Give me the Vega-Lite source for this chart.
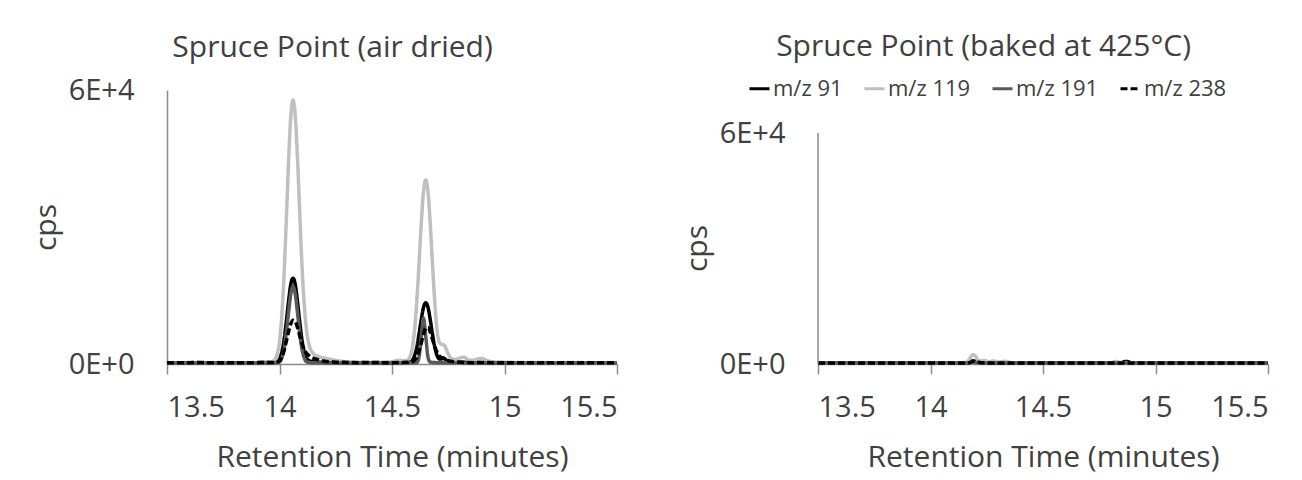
{
  "$schema": "https://vega.github.io/schema/vega-lite/v6.json",
  "padding": {"left": 31, "top": 32, "right": 4, "bottom": 6},
  "background": "#ffffff",
  "config": {
    "font": "Open Sans",
    "view": {"stroke": null},
    "axis": {
      "grid": false,
      "domainColor": "#8c8c8c",
      "domainWidth": 1.5,
      "tickColor": "#8c8c8c",
      "tickWidth": 1.5,
      "labelColor": "#404040",
      "labelFontSize": 29,
      "titleColor": "#404040",
      "titleFontSize": 30,
      "titleFontWeight": "normal"
    },
    "title": {"fontSize": 30, "fontWeight": "normal", "color": "#404040", "anchor": "middle", "frame": "bounds"}
  },
  "datasets": {
    "air": [
      {"t": 13.50, "v": 250, "ion": "m/z 91"}, {"t": 13.55, "v": 300, "ion": "m/z 91"}, {"t": 13.60, "v": 200, "ion": "m/z 91"}, {"t": 13.65, "v": 300, "ion": "m/z 91"}, {"t": 13.70, "v": 250, "ion": "m/z 91"}, {"t": 13.75, "v": 200, "ion": "m/z 91"}, {"t": 13.80, "v": 300, "ion": "m/z 91"}, {"t": 13.85, "v": 250, "ion": "m/z 91"}, {"t": 13.90, "v": 300, "ion": "m/z 91"}, {"t": 13.95, "v": 350, "ion": "m/z 91"}, {"t": 13.98, "v": 400, "ion": "m/z 91"}, {"t": 13.99, "v": 450, "ion": "m/z 91"}, {"t": 14.00, "v": 1050, "ion": "m/z 91"}, {"t": 14.01, "v": 2550, "ion": "m/z 91"}, {"t": 14.02, "v": 5200, "ion": "m/z 91"}, {"t": 14.03, "v": 9200, "ion": "m/z 91"}, {"t": 14.04, "v": 13600, "ion": "m/z 91"}, {"t": 14.05, "v": 17400, "ion": "m/z 91"}, {"t": 14.06, "v": 18800, "ion": "m/z 91"}, {"t": 14.07, "v": 17400, "ion": "m/z 91"}, {"t": 14.08, "v": 13600, "ion": "m/z 91"}, {"t": 14.09, "v": 9200, "ion": "m/z 91"}, {"t": 14.10, "v": 5200, "ion": "m/z 91"}, {"t": 14.11, "v": 2600, "ion": "m/z 91"}, {"t": 14.12, "v": 1300, "ion": "m/z 91"}, {"t": 14.13, "v": 800, "ion": "m/z 91"}, {"t": 14.14, "v": 600, "ion": "m/z 91"}, {"t": 14.16, "v": 450, "ion": "m/z 91"}, {"t": 14.20, "v": 350, "ion": "m/z 91"}, {"t": 14.25, "v": 300, "ion": "m/z 91"}, {"t": 14.30, "v": 250, "ion": "m/z 91"}, {"t": 14.35, "v": 300, "ion": "m/z 91"}, {"t": 14.40, "v": 250, "ion": "m/z 91"}, {"t": 14.45, "v": 300, "ion": "m/z 91"}, {"t": 14.50, "v": 300, "ion": "m/z 91"}, {"t": 14.55, "v": 350, "ion": "m/z 91"}, {"t": 14.57, "v": 450, "ion": "m/z 91"}, {"t": 14.58, "v": 500, "ion": "m/z 91"}, {"t": 14.59, "v": 800, "ion": "m/z 91"}, {"t": 14.60, "v": 1800, "ion": "m/z 91"}, {"t": 14.61, "v": 3700, "ion": "m/z 91"}, {"t": 14.62, "v": 6500, "ion": "m/z 91"}, {"t": 14.63, "v": 9700, "ion": "m/z 91"}, {"t": 14.64, "v": 12400, "ion": "m/z 91"}, {"t": 14.65, "v": 13400, "ion": "m/z 91"}, {"t": 14.66, "v": 12400, "ion": "m/z 91"}, {"t": 14.67, "v": 9700, "ion": "m/z 91"}, {"t": 14.68, "v": 6500, "ion": "m/z 91"}, {"t": 14.69, "v": 3700, "ion": "m/z 91"}, {"t": 14.70, "v": 1900, "ion": "m/z 91"}, {"t": 14.71, "v": 1100, "ion": "m/z 91"}, {"t": 14.72, "v": 1100, "ion": "m/z 91"}, {"t": 14.73, "v": 1300, "ion": "m/z 91"}, {"t": 14.74, "v": 900, "ion": "m/z 91"}, {"t": 14.76, "v": 500, "ion": "m/z 91"}, {"t": 14.80, "v": 400, "ion": "m/z 91"}, {"t": 14.85, "v": 350, "ion": "m/z 91"}, {"t": 14.90, "v": 300, "ion": "m/z 91"}, {"t": 14.95, "v": 300, "ion": "m/z 91"}, {"t": 15.00, "v": 250, "ion": "m/z 91"}, {"t": 15.05, "v": 300, "ion": "m/z 91"}, {"t": 15.10, "v": 250, "ion": "m/z 91"}, {"t": 15.15, "v": 300, "ion": "m/z 91"}, {"t": 15.20, "v": 250, "ion": "m/z 91"}, {"t": 15.25, "v": 300, "ion": "m/z 91"}, {"t": 15.30, "v": 250, "ion": "m/z 91"}, {"t": 15.35, "v": 300, "ion": "m/z 91"}, {"t": 15.40, "v": 250, "ion": "m/z 91"}, {"t": 15.45, "v": 300, "ion": "m/z 91"}, {"t": 15.50, "v": 250, "ion": "m/z 91"},

      {"t": 13.50, "v": 300, "ion": "m/z 119"}, {"t": 13.55, "v": 250, "ion": "m/z 119"}, {"t": 13.60, "v": 350, "ion": "m/z 119"}, {"t": 13.65, "v": 300, "ion": "m/z 119"}, {"t": 13.70, "v": 250, "ion": "m/z 119"}, {"t": 13.75, "v": 350, "ion": "m/z 119"}, {"t": 13.80, "v": 300, "ion": "m/z 119"}, {"t": 13.85, "v": 250, "ion": "m/z 119"}, {"t": 13.90, "v": 300, "ion": "m/z 119"}, {"t": 13.95, "v": 400, "ion": "m/z 119"}, {"t": 13.97, "v": 600, "ion": "m/z 119"}, {"t": 13.98, "v": 1000, "ion": "m/z 119"}, {"t": 13.99, "v": 2200, "ion": "m/z 119"}, {"t": 14.00, "v": 5000, "ion": "m/z 119"}, {"t": 14.01, "v": 10500, "ion": "m/z 119"}, {"t": 14.02, "v": 19300, "ion": "m/z 119"}, {"t": 14.03, "v": 31200, "ion": "m/z 119"}, {"t": 14.04, "v": 43900, "ion": "m/z 119"}, {"t": 14.05, "v": 54000, "ion": "m/z 119"}, {"t": 14.06, "v": 57800, "ion": "m/z 119"}, {"t": 14.07, "v": 54300, "ion": "m/z 119"}, {"t": 14.08, "v": 45000, "ion": "m/z 119"}, {"t": 14.09, "v": 33000, "ion": "m/z 119"}, {"t": 14.10, "v": 21500, "ion": "m/z 119"}, {"t": 14.11, "v": 13000, "ion": "m/z 119"}, {"t": 14.12, "v": 7500, "ion": "m/z 119"}, {"t": 14.13, "v": 4500, "ion": "m/z 119"}, {"t": 14.14, "v": 3000, "ion": "m/z 119"}, {"t": 14.15, "v": 2300, "ion": "m/z 119"}, {"t": 14.17, "v": 1700, "ion": "m/z 119"}, {"t": 14.20, "v": 1300, "ion": "m/z 119"}, {"t": 14.23, "v": 1000, "ion": "m/z 119"}, {"t": 14.26, "v": 700, "ion": "m/z 119"}, {"t": 14.30, "v": 500, "ion": "m/z 119"}, {"t": 14.35, "v": 400, "ion": "m/z 119"}, {"t": 14.40, "v": 350, "ion": "m/z 119"}, {"t": 14.45, "v": 400, "ion": "m/z 119"}, {"t": 14.50, "v": 500, "ion": "m/z 119"}, {"t": 14.53, "v": 800, "ion": "m/z 119"}, {"t": 14.55, "v": 700, "ion": "m/z 119"}, {"t": 14.57, "v": 900, "ion": "m/z 119"}, {"t": 14.58, "v": 1600, "ion": "m/z 119"}, {"t": 14.59, "v": 3500, "ion": "m/z 119"}, {"t": 14.60, "v": 7400, "ion": "m/z 119"}, {"t": 14.61, "v": 13600, "ion": "m/z 119"}, {"t": 14.62, "v": 21900, "ion": "m/z 119"}, {"t": 14.63, "v": 30700, "ion": "m/z 119"}, {"t": 14.64, "v": 37700, "ion": "m/z 119"}, {"t": 14.65, "v": 40300, "ion": "m/z 119"}, {"t": 14.66, "v": 37700, "ion": "m/z 119"}, {"t": 14.67, "v": 30700, "ion": "m/z 119"}, {"t": 14.68, "v": 21900, "ion": "m/z 119"}, {"t": 14.69, "v": 13600, "ion": "m/z 119"}, {"t": 14.70, "v": 7600, "ion": "m/z 119"}, {"t": 14.71, "v": 4800, "ion": "m/z 119"}, {"t": 14.72, "v": 4300, "ion": "m/z 119"}, {"t": 14.73, "v": 4200, "ion": "m/z 119"}, {"t": 14.74, "v": 3400, "ion": "m/z 119"}, {"t": 14.75, "v": 2200, "ion": "m/z 119"}, {"t": 14.76, "v": 1400, "ion": "m/z 119"}, {"t": 14.78, "v": 1000, "ion": "m/z 119"}, {"t": 14.80, "v": 1300, "ion": "m/z 119"}, {"t": 14.82, "v": 1500, "ion": "m/z 119"}, {"t": 14.84, "v": 900, "ion": "m/z 119"}, {"t": 14.86, "v": 800, "ion": "m/z 119"}, {"t": 14.88, "v": 1100, "ion": "m/z 119"}, {"t": 14.90, "v": 1200, "ion": "m/z 119"}, {"t": 14.92, "v": 800, "ion": "m/z 119"}, {"t": 14.95, "v": 500, "ion": "m/z 119"}, {"t": 15.00, "v": 400, "ion": "m/z 119"}, {"t": 15.05, "v": 350, "ion": "m/z 119"}, {"t": 15.10, "v": 300, "ion": "m/z 119"}, {"t": 15.15, "v": 350, "ion": "m/z 119"}, {"t": 15.20, "v": 300, "ion": "m/z 119"}, {"t": 15.25, "v": 300, "ion": "m/z 119"}, {"t": 15.30, "v": 350, "ion": "m/z 119"}, {"t": 15.35, "v": 300, "ion": "m/z 119"}, {"t": 15.40, "v": 300, "ion": "m/z 119"}, {"t": 15.45, "v": 300, "ion": "m/z 119"}, {"t": 15.50, "v": 300, "ion": "m/z 119"},

      {"t": 13.50, "v": 200, "ion": "m/z 191"}, {"t": 13.60, "v": 250, "ion": "m/z 191"}, {"t": 13.70, "v": 200, "ion": "m/z 191"}, {"t": 13.80, "v": 250, "ion": "m/z 191"}, {"t": 13.90, "v": 200, "ion": "m/z 191"}, {"t": 13.98, "v": 250, "ion": "m/z 191"}, {"t": 14.00, "v": 450, "ion": "m/z 191"}, {"t": 14.01, "v": 1300, "ion": "m/z 191"}, {"t": 14.02, "v": 3200, "ion": "m/z 191"}, {"t": 14.03, "v": 6700, "ion": "m/z 191"}, {"t": 14.04, "v": 11200, "ion": "m/z 191"}, {"t": 14.05, "v": 15300, "ion": "m/z 191"}, {"t": 14.06, "v": 17000, "ion": "m/z 191"}, {"t": 14.07, "v": 15300, "ion": "m/z 191"}, {"t": 14.08, "v": 11200, "ion": "m/z 191"}, {"t": 14.09, "v": 6700, "ion": "m/z 191"}, {"t": 14.10, "v": 3200, "ion": "m/z 191"}, {"t": 14.11, "v": 1300, "ion": "m/z 191"}, {"t": 14.12, "v": 500, "ion": "m/z 191"}, {"t": 14.14, "v": 300, "ion": "m/z 191"}, {"t": 14.20, "v": 250, "ion": "m/z 191"}, {"t": 14.30, "v": 200, "ion": "m/z 191"}, {"t": 14.40, "v": 250, "ion": "m/z 191"}, {"t": 14.50, "v": 200, "ion": "m/z 191"}, {"t": 14.58, "v": 250, "ion": "m/z 191"}, {"t": 14.61, "v": 300, "ion": "m/z 191"}, {"t": 14.62, "v": 1500, "ion": "m/z 191"}, {"t": 14.63, "v": 6000, "ion": "m/z 191"}, {"t": 14.64, "v": 10000, "ion": "m/z 191"}, {"t": 14.65, "v": 6000, "ion": "m/z 191"}, {"t": 14.66, "v": 1500, "ion": "m/z 191"}, {"t": 14.67, "v": 400, "ion": "m/z 191"}, {"t": 14.70, "v": 300, "ion": "m/z 191"}, {"t": 14.80, "v": 250, "ion": "m/z 191"}, {"t": 14.90, "v": 200, "ion": "m/z 191"}, {"t": 15.00, "v": 250, "ion": "m/z 191"}, {"t": 15.10, "v": 200, "ion": "m/z 191"}, {"t": 15.20, "v": 250, "ion": "m/z 191"}, {"t": 15.30, "v": 200, "ion": "m/z 191"}, {"t": 15.40, "v": 250, "ion": "m/z 191"}, {"t": 15.50, "v": 200, "ion": "m/z 191"},

      {"t": 13.50, "v": 300, "ion": "m/z 238"}, {"t": 13.55, "v": 250, "ion": "m/z 238"}, {"t": 13.60, "v": 300, "ion": "m/z 238"}, {"t": 13.65, "v": 350, "ion": "m/z 238"}, {"t": 13.70, "v": 250, "ion": "m/z 238"}, {"t": 13.75, "v": 300, "ion": "m/z 238"}, {"t": 13.80, "v": 300, "ion": "m/z 238"}, {"t": 13.85, "v": 250, "ion": "m/z 238"}, {"t": 13.90, "v": 300, "ion": "m/z 238"}, {"t": 13.95, "v": 350, "ion": "m/z 238"}, {"t": 13.98, "v": 300, "ion": "m/z 238"}, {"t": 13.99, "v": 400, "ion": "m/z 238"}, {"t": 14.00, "v": 700, "ion": "m/z 238"}, {"t": 14.01, "v": 1500, "ion": "m/z 238"}, {"t": 14.02, "v": 2900, "ion": "m/z 238"}, {"t": 14.03, "v": 4900, "ion": "m/z 238"}, {"t": 14.04, "v": 7000, "ion": "m/z 238"}, {"t": 14.05, "v": 8800, "ion": "m/z 238"}, {"t": 14.06, "v": 9600, "ion": "m/z 238"}, {"t": 14.07, "v": 9300, "ion": "m/z 238"}, {"t": 14.08, "v": 8000, "ion": "m/z 238"}, {"t": 14.09, "v": 6200, "ion": "m/z 238"}, {"t": 14.10, "v": 4500, "ion": "m/z 238"}, {"t": 14.11, "v": 3200, "ion": "m/z 238"}, {"t": 14.12, "v": 2400, "ion": "m/z 238"}, {"t": 14.13, "v": 1900, "ion": "m/z 238"}, {"t": 14.14, "v": 1500, "ion": "m/z 238"}, {"t": 14.16, "v": 1100, "ion": "m/z 238"}, {"t": 14.18, "v": 800, "ion": "m/z 238"}, {"t": 14.20, "v": 600, "ion": "m/z 238"}, {"t": 14.24, "v": 450, "ion": "m/z 238"}, {"t": 14.30, "v": 350, "ion": "m/z 238"}, {"t": 14.35, "v": 300, "ion": "m/z 238"}, {"t": 14.40, "v": 350, "ion": "m/z 238"}, {"t": 14.45, "v": 300, "ion": "m/z 238"}, {"t": 14.50, "v": 300, "ion": "m/z 238"}, {"t": 14.55, "v": 350, "ion": "m/z 238"}, {"t": 14.58, "v": 400, "ion": "m/z 238"}, {"t": 14.59, "v": 500, "ion": "m/z 238"}, {"t": 14.60, "v": 800, "ion": "m/z 238"}, {"t": 14.61, "v": 1500, "ion": "m/z 238"}, {"t": 14.62, "v": 2800, "ion": "m/z 238"}, {"t": 14.63, "v": 4600, "ion": "m/z 238"}, {"t": 14.64, "v": 6500, "ion": "m/z 238"}, {"t": 14.65, "v": 7900, "ion": "m/z 238"}, {"t": 14.66, "v": 8000, "ion": "m/z 238"}, {"t": 14.67, "v": 7000, "ion": "m/z 238"}, {"t": 14.68, "v": 5400, "ion": "m/z 238"}, {"t": 14.69, "v": 3800, "ion": "m/z 238"}, {"t": 14.70, "v": 2600, "ion": "m/z 238"}, {"t": 14.71, "v": 1800, "ion": "m/z 238"}, {"t": 14.72, "v": 1400, "ion": "m/z 238"}, {"t": 14.73, "v": 1200, "ion": "m/z 238"}, {"t": 14.74, "v": 900, "ion": "m/z 238"}, {"t": 14.76, "v": 600, "ion": "m/z 238"}, {"t": 14.78, "v": 450, "ion": "m/z 238"}, {"t": 14.82, "v": 350, "ion": "m/z 238"}, {"t": 14.86, "v": 300, "ion": "m/z 238"}, {"t": 14.90, "v": 350, "ion": "m/z 238"}, {"t": 14.95, "v": 300, "ion": "m/z 238"}, {"t": 15.00, "v": 300, "ion": "m/z 238"}, {"t": 15.05, "v": 250, "ion": "m/z 238"}, {"t": 15.10, "v": 300, "ion": "m/z 238"}, {"t": 15.15, "v": 300, "ion": "m/z 238"}, {"t": 15.20, "v": 250, "ion": "m/z 238"}, {"t": 15.25, "v": 300, "ion": "m/z 238"}, {"t": 15.30, "v": 300, "ion": "m/z 238"}, {"t": 15.35, "v": 250, "ion": "m/z 238"}, {"t": 15.40, "v": 300, "ion": "m/z 238"}, {"t": 15.45, "v": 300, "ion": "m/z 238"}, {"t": 15.50, "v": 300, "ion": "m/z 238"}
    ],
    "baked": [
      {"t": 13.50, "v": 250, "ion": "m/z 91"}, {"t": 13.70, "v": 250, "ion": "m/z 91"}, {"t": 13.90, "v": 250, "ion": "m/z 91"}, {"t": 14.10, "v": 250, "ion": "m/z 91"}, {"t": 14.16, "v": 300, "ion": "m/z 91"}, {"t": 14.18, "v": 800, "ion": "m/z 91"}, {"t": 14.20, "v": 700, "ion": "m/z 91"}, {"t": 14.22, "v": 400, "ion": "m/z 91"}, {"t": 14.26, "v": 500, "ion": "m/z 91"}, {"t": 14.30, "v": 300, "ion": "m/z 91"}, {"t": 14.50, "v": 250, "ion": "m/z 91"}, {"t": 14.70, "v": 250, "ion": "m/z 91"}, {"t": 14.84, "v": 300, "ion": "m/z 91"}, {"t": 14.87, "v": 650, "ion": "m/z 91"}, {"t": 14.90, "v": 300, "ion": "m/z 91"}, {"t": 15.10, "v": 250, "ion": "m/z 91"}, {"t": 15.30, "v": 250, "ion": "m/z 91"}, {"t": 15.50, "v": 250, "ion": "m/z 91"},

      {"t": 13.50, "v": 250, "ion": "m/z 119"}, {"t": 13.70, "v": 250, "ion": "m/z 119"}, {"t": 13.90, "v": 250, "ion": "m/z 119"}, {"t": 14.10, "v": 300, "ion": "m/z 119"}, {"t": 14.15, "v": 350, "ion": "m/z 119"}, {"t": 14.17, "v": 1000, "ion": "m/z 119"}, {"t": 14.18, "v": 2000, "ion": "m/z 119"}, {"t": 14.19, "v": 2400, "ion": "m/z 119"}, {"t": 14.20, "v": 2000, "ion": "m/z 119"}, {"t": 14.21, "v": 1100, "ion": "m/z 119"}, {"t": 14.22, "v": 800, "ion": "m/z 119"}, {"t": 14.24, "v": 900, "ion": "m/z 119"}, {"t": 14.26, "v": 600, "ion": "m/z 119"}, {"t": 14.28, "v": 800, "ion": "m/z 119"}, {"t": 14.30, "v": 500, "ion": "m/z 119"}, {"t": 14.33, "v": 700, "ion": "m/z 119"}, {"t": 14.36, "v": 350, "ion": "m/z 119"}, {"t": 14.50, "v": 250, "ion": "m/z 119"}, {"t": 14.70, "v": 250, "ion": "m/z 119"}, {"t": 14.80, "v": 300, "ion": "m/z 119"}, {"t": 14.82, "v": 650, "ion": "m/z 119"}, {"t": 14.84, "v": 450, "ion": "m/z 119"}, {"t": 14.88, "v": 300, "ion": "m/z 119"}, {"t": 15.10, "v": 250, "ion": "m/z 119"}, {"t": 15.30, "v": 250, "ion": "m/z 119"}, {"t": 15.50, "v": 250, "ion": "m/z 119"},

      {"t": 13.50, "v": 250, "ion": "m/z 191"}, {"t": 13.80, "v": 250, "ion": "m/z 191"}, {"t": 14.10, "v": 250, "ion": "m/z 191"}, {"t": 14.17, "v": 300, "ion": "m/z 191"}, {"t": 14.19, "v": 550, "ion": "m/z 191"}, {"t": 14.21, "v": 300, "ion": "m/z 191"}, {"t": 14.50, "v": 250, "ion": "m/z 191"}, {"t": 14.80, "v": 250, "ion": "m/z 191"}, {"t": 15.10, "v": 250, "ion": "m/z 191"}, {"t": 15.50, "v": 250, "ion": "m/z 191"},

      {"t": 13.50, "v": 250, "ion": "m/z 238"}, {"t": 13.70, "v": 250, "ion": "m/z 238"}, {"t": 13.90, "v": 250, "ion": "m/z 238"}, {"t": 14.10, "v": 250, "ion": "m/z 238"}, {"t": 14.17, "v": 300, "ion": "m/z 238"}, {"t": 14.19, "v": 700, "ion": "m/z 238"}, {"t": 14.21, "v": 550, "ion": "m/z 238"}, {"t": 14.23, "v": 300, "ion": "m/z 238"}, {"t": 14.50, "v": 250, "ion": "m/z 238"}, {"t": 14.70, "v": 250, "ion": "m/z 238"}, {"t": 14.90, "v": 250, "ion": "m/z 238"}, {"t": 15.10, "v": 250, "ion": "m/z 238"}, {"t": 15.30, "v": 250, "ion": "m/z 238"}, {"t": 15.50, "v": 250, "ion": "m/z 238"}
    ]
  },
  "spacing": 58,
  "hconcat": [
    {
      "title": {"text": "Spruce Point (air dried)", "offset": 13, "dx": 5},
      "data": {"name": "air"},
      "width": 450,
      "height": 274,
      "mark": {"type": "line", "strokeWidth": 3.5, "interpolate": "monotone"},
      "encoding": {
        "x": {
          "field": "t", "type": "quantitative",
          "scale": {"domain": [13.5, 15.5], "nice": false, "zero": false},
          "axis": {"title": "Retention Time (minutes)", "values": [13.5, 14, 14.5, 15, 15.5], "format": "~g", "tickSize": 10, "labelPadding": 19, "titlePadding": 20}
        },
        "y": {
          "field": "v", "type": "quantitative",
          "scale": {"domain": [0, 60000], "nice": false},
          "axis": {"title": "cps", "values": [0, 60000], "labelExpr": "upper(format(datum.value, '.0e'))", "ticks": false, "tickSize": 0, "labelPadding": 33, "titlePadding": 7}
        },
        "color": {
          "field": "ion", "type": "nominal",
          "scale": {"domain": ["m/z 91", "m/z 119", "m/z 191", "m/z 238"], "range": ["#000000", "#bfbfbf", "#595959", "#000000"]},
          "legend": null
        },
        "strokeDash": {
          "field": "ion", "type": "nominal",
          "scale": {"domain": ["m/z 91", "m/z 119", "m/z 191", "m/z 238"], "range": [[1, 0], [1, 0], [1, 0], [7, 3]]},
          "legend": null
        }
      }
    },
    {
      "title": {"text": "Spruce Point (baked at 425°C)", "offset": 15, "dx": 5},
      "data": {"name": "baked"},
      "width": 450,
      "height": 274,
      "encoding": {
        "x": {
          "field": "t", "type": "quantitative",
          "scale": {"domain": [13.5, 15.5], "nice": false, "zero": false},
          "axis": {"title": "Retention Time (minutes)", "values": [13.5, 14, 14.5, 15, 15.5], "format": "~g", "tickSize": 10, "labelPadding": 19, "titlePadding": 20}
        },
        "y": {
          "field": "v", "type": "quantitative",
          "scale": {"domain": [0, 71169], "nice": false},
          "axis": {"title": "cps", "values": [0, 60000], "labelExpr": "upper(format(datum.value, '.0e'))", "ticks": false, "tickSize": 0, "domain": false, "labelPadding": 33, "titlePadding": 7, "titleY": 158}
        }
      },
      "layer": [
        {
          "mark": {"type": "line", "strokeWidth": 3.5, "interpolate": "monotone"},
          "encoding": {
            "color": {
              "field": "ion", "type": "nominal",
              "scale": {"domain": ["m/z 91", "m/z 119", "m/z 191", "m/z 238"], "range": ["#000000", "#bfbfbf", "#595959", "#000000"]},
              "legend": {"title": null, "orient": "none", "legendX": -70, "legendY": -13, "direction": "horizontal", "columns": 4, "symbolType": "stroke", "symbolStrokeWidth": 3, "symbolSize": 400, "labelFontSize": 22, "labelColor": "#404040", "labelOffset": 2, "columnPadding": 15}
            },
            "strokeDash": {
              "field": "ion", "type": "nominal",
              "scale": {"domain": ["m/z 91", "m/z 119", "m/z 191", "m/z 238"], "range": [[1, 0], [1, 0], [1, 0], [7, 3]]},
              "legend": {"title": null, "orient": "none", "legendX": -70, "legendY": -13, "direction": "horizontal", "columns": 4, "symbolType": "stroke", "symbolStrokeWidth": 3, "symbolSize": 400, "labelFontSize": 22, "labelColor": "#404040", "labelOffset": 2, "columnPadding": 15}
            }
          }
        },
        {
          "data": {"values": [{"t": 13.5, "v": 0, "v2": 60000}]},
          "mark": {"type": "rule", "color": "#8c8c8c", "strokeWidth": 1.5},
          "encoding": {
            "y2": {"field": "v2"}
          }
        }
      ]
    }
  ],
  "resolve": {"scale": {"color": "independent", "strokeDash": "independent"}, "legend": {"color": "independent", "strokeDash": "independent"}}
}
